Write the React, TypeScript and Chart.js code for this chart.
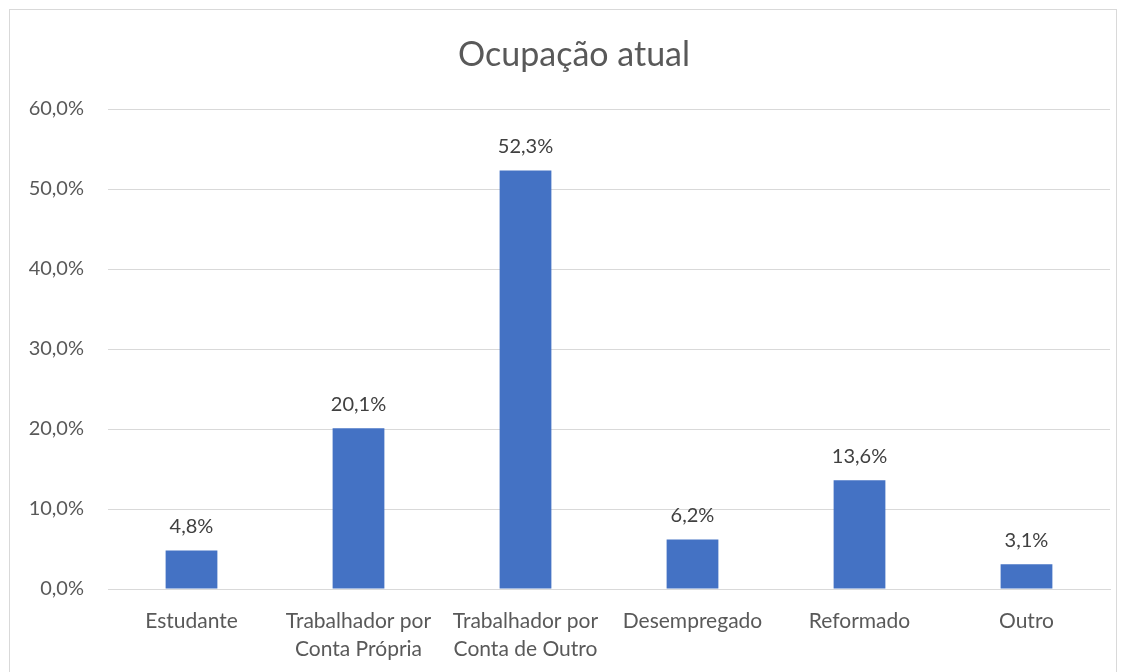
import React, { useEffect, useRef } from "react";
import { Chart, registerables } from "chart.js";

Chart.register(...registerables);

const categories: (string | string[])[] = [
  "Estudante",
  ["Trabalhador por", "Conta Própria"],
  ["Trabalhador por", "Conta de Outro"],
  "Desempregado",
  "Reformado",
  "Outro",
];
const values = [4.8, 20.1, 52.3, 6.2, 13.6, 3.1];
const yTicks = [0, 10, 20, 30, 40, 50, 60];
const chartTitle = "Ocupação atual";

const FONT = "Lato, 'Open Sans', sans-serif";
const fmt = (v: number) => v.toFixed(1).replace(".", ",") + "%";

const labelPlugin = {
  id: "barLabels",
  afterDatasetsDraw(chart: any) {
    const ctx = chart.ctx;
    const meta = chart.getDatasetMeta(0);
    ctx.save();
    ctx.font = `20px ${FONT}`;
    ctx.fillStyle = "#404040";
    ctx.textAlign = "center";
    ctx.textBaseline = "middle";
    meta.data.forEach((bar: any, i: number) => {
      ctx.fillText(fmt(values[i]), bar.x, bar.y - 24);
    });
    // chart title
    ctx.font = `34px ${FONT}`;
    ctx.fillStyle = "#595959";
    ctx.fillText(chartTitle, 564, 45);
    ctx.restore();
  },
};

export default function App() {
  const ref = useRef<HTMLCanvasElement>(null);
  useEffect(() => {
    document.body.style.overflow = "hidden";
    const chart = new Chart(ref.current!, {
      type: "bar",
      data: {
        labels: categories,
        datasets: [
          {
            data: values,
            backgroundColor: "#4472C4",
            barPercentage: 0.31,
            categoryPercentage: 1,
          },
        ],
      },
      options: {
        responsive: false,
        animation: false,
        layout: { padding: { left: 0, right: 6, top: 99, bottom: 0 } },
        plugins: {
          legend: { display: false },
          tooltip: { enabled: false },
          title: { display: false },
        },
        scales: {
          x: {
            grid: { display: false },
            border: { color: "#d9d9d9" },
            afterFit: (axis: any) => {
              axis.height = 101;
            },
            ticks: {
              color: "#595959",
              font: { family: FONT, size: 21, lineHeight: 1.35 },
              maxRotation: 0,
              autoSkip: false,
              padding: 10,
            },
          },
          y: {
            min: 0,
            max: 60,
            afterBuildTicks: (axis: any) => {
              axis.ticks = yTicks.map((v) => ({ value: v }));
            },
            afterFit: (axis: any) => {
              axis.width = 98;
            },
            grid: { color: "#d9d9d9", drawTicks: false },
            border: { display: false },
            ticks: {
              color: "#595959",
              font: { family: FONT, size: 20 },
              padding: 24,
              callback: (v: any) => fmt(Number(v)),
            },
          },
        },
      },
      plugins: [labelPlugin],
    });
    return () => chart.destroy();
  }, []);
  return (
    <div
      style={{
        position: "absolute",
        left: 9,
        top: 9,
        width: 1106,
        height: 680,
        border: "1px solid #d9d9d9",
        background: "#fff",
      }}
    >
      <canvas ref={ref} width={1106} height={680} />
    </div>
  );
}
